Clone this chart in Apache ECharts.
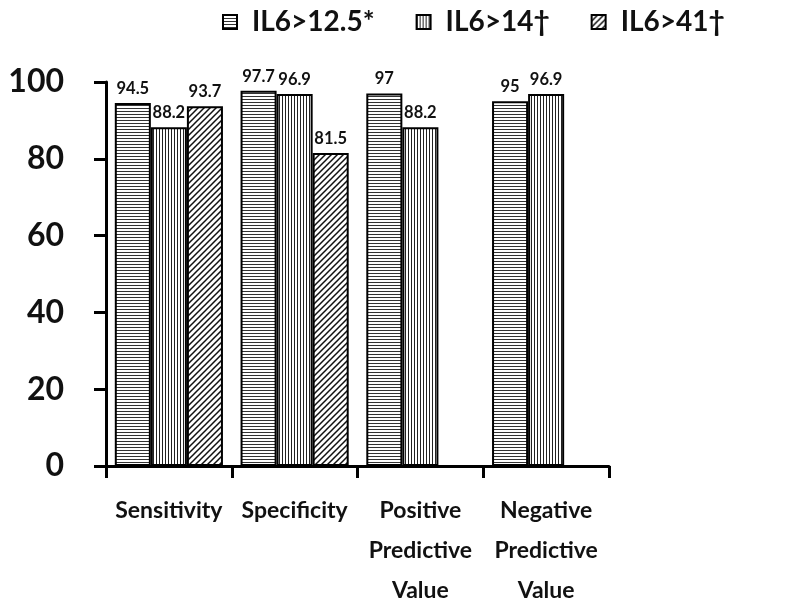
<!DOCTYPE html>
<html><head><meta charset="utf-8">
<script src="https://cdn.jsdelivr.net/npm/echarts@6/dist/echarts.min.js"></script>
<style>html,body{margin:0;padding:0;background:#fff}#c{width:800px;height:615px}</style>
</head><body><div id="c"></div>
<script>
const categories = ['Sensitivity', 'Specificity', 'Positive\nPredictive\nValue', 'Negative\nPredictive\nValue'];
const seriesNames = ['IL6>12.5*', 'IL6>14†', 'IL6>41†'];
const il6_12_5 = [94.5, 97.7, 97, 95];
const il6_14 = [88.2, 96.9, 88.2, 96.9];
const il6_41 = [93.7, 81.5, '-', '-'];
const yTicks = [0, 20, 40, 60, 80, 100];

function pattern(kind) {
  const c = document.createElement('canvas');
  const ctx = c.getContext('2d');
  if (kind === 'h') {
    c.width = 4; c.height = 3;
    ctx.fillStyle = '#fff'; ctx.fillRect(0,0,4,3);
    ctx.fillStyle = '#333'; ctx.fillRect(0,0,4,1);
  } else if (kind === 'v') {
    c.width = 3; c.height = 4;
    ctx.fillStyle = '#fff'; ctx.fillRect(0,0,3,4);
    ctx.fillStyle = '#222'; ctx.fillRect(0,0,1,4);
  } else {
    const s = 6;
    c.width = s; c.height = s;
    ctx.fillStyle = '#fff'; ctx.fillRect(0,0,s,s);
    ctx.strokeStyle = '#111'; ctx.lineWidth = 1.5;
    ctx.beginPath();
    ctx.moveTo(-1, s+1); ctx.lineTo(s+1, -1);
    ctx.moveTo(-1, 1); ctx.lineTo(1, -1);
    ctx.moveTo(s-1, s+1); ctx.lineTo(s+1, s-1);
    ctx.stroke();
  }
  return {image: c, repeat: 'repeat'};
}

const font = 'Lato, "Open Sans", sans-serif';
const labelCfg = {show: true, position: 'top', distance: 6, color: '#111', fontSize: 16.5, fontWeight: 'bold', fontFamily: font};
function mk(name, data, kind) {
  return {
    name: name, type: 'bar', data: data, barGap: '0%', barCategoryGap: '14%',
    itemStyle: {color: pattern(kind), borderColor: '#000', borderWidth: 2},
    label: labelCfg
  };
}

const chart = echarts.init(document.getElementById('c'), null, {renderer: 'canvas'});
chart.setOption({
  animation: false,
  backgroundColor: '#fff',
  legend: {
    top: 8, left: 222, padding: 0, itemWidth: 14, itemHeight: 14, itemGap: 41, icon: 'rect',
    textStyle: {fontSize: 28, fontWeight: 'bold', color: '#111', fontFamily: font, padding: [0, 0, 0, 10]},
    data: seriesNames
  },
  grid: {left: 106, right: 191, top: 82, bottom: 149},
  xAxis: {
    type: 'category', data: categories,
    axisLine: {lineStyle: {color: '#000', width: 3}},
    axisTick: {show: true, length: 12, lineStyle: {width: 3, color: '#000'}},
    axisLabel: {color: '#111', fontSize: 23, fontWeight: 'bold', fontFamily: font, lineHeight: 40, margin: 25, interval: 0}
  },
  yAxis: {
    type: 'value', min: 0, max: 100, interval: 20,
    axisLine: {show: true, lineStyle: {color: '#000', width: 3}},
    axisTick: {show: true, length: 12, lineStyle: {width: 3, color: '#000'}},
    splitLine: {show: false},
    axisLabel: {color: '#111', fontSize: 32, fontWeight: 'bold', fontFamily: font, margin: 42,
      formatter: v => yTicks.includes(v) ? String(v) : ''}
  },
  series: [mk(seriesNames[0], il6_12_5, 'h'), mk(seriesNames[1], il6_14, 'v'), mk(seriesNames[2], il6_41, 'd')]
});
</script></body></html>
